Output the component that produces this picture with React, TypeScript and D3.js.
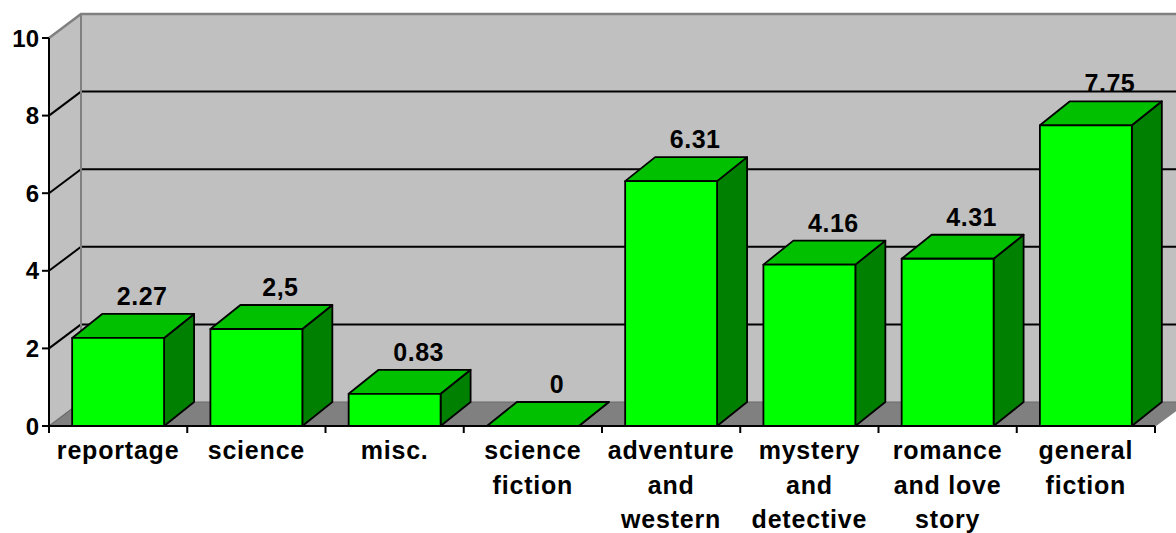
import React from "react";
import * as d3 from "d3";

// Category labels, one entry per line of the wrapped axis label
const categoryLines: string[][] = [
  ["reportage"],
  ["science"],
  ["misc."],
  ["science", "fiction"],
  ["adventure", "and", "western"],
  ["mystery", "and", "detective"],
  ["romance", "and love", "story"],
  ["general", "fiction"],
];
const values: number[] = [2.27, 2.5, 0.83, 0, 6.31, 4.16, 4.31, 7.75];
const valueLabels: string[] = ["2.27", "2,5", "0.83", "0", "6.31", "4.16", "4.31", "7.75"];
const yTicks: number[] = [0, 2, 4, 6, 8, 10];

const W = 1176;
const H = 533;
const FONT = "'Liberation Sans', Arial, sans-serif";

export default function App() {
  const left = 49;
  const right = 1155;
  const base = 426;
  const top = 38;
  // oblique depth of the walls and the bars
  const wallDx = 32;
  const wallDy = 24;
  const barDx = 30;
  const barDy = 24;

  const keys = categoryLines.map((_, i) => String(i));
  const x = d3.scaleBand<string>().domain(keys).range([left, right]).padding(0);
  const y = d3.scaleLinear().domain([0, 10]).range([base, top]);
  const step = x.step();
  const barW = step * 0.665;
  const barOff = (step - barW) / 2;

  const pts = (p: [number, number][]) => p.map((q) => q.join(",")).join(" ");

  const backRight = W + 60;

  return (
    <svg
      width={W}
      height={H}
      style={{ position: "absolute", left: 0, top: 0, background: "#fff" }}
      fontFamily={FONT}
    >
      {/* back wall */}
      <rect
        x={left + wallDx}
        y={y(10) - wallDy}
        width={backRight - left - wallDx}
        height={base - y(10)}
        fill="#c0c0c0"
      />
      {/* side wall */}
      <polygon
        points={pts([
          [left, y(10)],
          [left + wallDx, y(10) - wallDy],
          [left + wallDx, base - wallDy],
          [left, base],
        ])}
        fill="#c0c0c0"
      />
      {/* floor */}
      <polygon
        points={pts([
          [left, base],
          [left + wallDx, base - wallDy],
          [backRight, base - wallDy],
          [right + wallDx + 60, base],
        ])}
        fill="#808080"
      />
      <polygon
        points={pts([
          [right, base],
          [right + wallDx + 60, base - wallDy - 45],
          [backRight + 100, base + 100],
          [right, base + 100],
        ])}
        fill="#fff"
      />
      <line
        x1={right}
        y1={base}
        x2={right + wallDx}
        y2={base - wallDy}
        stroke="#808080"
        strokeWidth={1.5}
      />
      {/* floor back edge */}
      <line
        x1={left}
        y1={base}
        x2={left + wallDx}
        y2={base - wallDy}
        stroke="#6a6a6a"
        strokeWidth={1.2}
      />
      <line
        x1={left + wallDx}
        y1={base - wallDy}
        x2={backRight}
        y2={base - wallDy}
        stroke="#6a6a6a"
        strokeWidth={1.2}
      />

      {/* gridlines */}
      {yTicks
        .filter((t) => t > 0 && t < 10)
        .map((t) => (
          <g key={"g" + t}>
            <line
              x1={left}
              y1={y(t)}
              x2={left + wallDx}
              y2={y(t) - wallDy}
              stroke="#000"
              strokeWidth={2}
            />
            <line
              x1={left + wallDx}
              y1={y(t) - wallDy}
              x2={backRight}
              y2={y(t) - wallDy}
              stroke="#000"
              strokeWidth={2}
            />
          </g>
        ))}
      {/* wall borders */}
      <polyline
        points={pts([
          [left, y(10)],
          [left + wallDx, y(10) - wallDy],
          [backRight, y(10) - wallDy],
        ])}
        fill="none"
        stroke="#808080"
        strokeWidth={2.5}
      />
      <line
        x1={left + wallDx}
        y1={y(10) - wallDy}
        x2={left + wallDx}
        y2={base - wallDy}
        stroke="#808080"
        strokeWidth={2}
      />

      {/* bars */}
      {values.map((v, i) => {
        const x0 = (x(String(i)) as number) + barOff;
        const x1 = x0 + barW;
        const yt = y(v);
        return (
          <g key={"b" + i} stroke="#000" strokeWidth={1.8} strokeLinejoin="round">
            <polygon
              points={pts([
                [x1, yt],
                [x1 + barDx, yt - barDy],
                [x1 + barDx, base - barDy],
                [x1, base],
              ])}
              fill="#008000"
            />
            <polygon
              points={pts([
                [x0, yt],
                [x0 + barDx, yt - barDy],
                [x1 + barDx, yt - barDy],
                [x1, yt],
              ])}
              fill="#00c000"
            />
            {v > 0 && <rect x={x0} y={yt} width={barW} height={base - yt} fill="#00ff00" />}
          </g>
        );
      })}

      {/* value labels */}
      {values.map((v, i) => {
        const cx = (x(String(i)) as number) + step / 2 + 24;
        const by = y(v) - barDy - 9;
        return (
          <text
            key={"v" + i}
            x={cx}
            y={by}
            textAnchor="middle"
            fontSize={25}
            fontWeight="bold"
            letterSpacing={0.5}
            fill="#000"
          >
            {valueLabels[i]}
          </text>
        );
      })}

      {/* axes */}
      <line x1={left} y1={y(10)} x2={left} y2={base} stroke="#000" strokeWidth={2} />
      <line x1={left} y1={base} x2={right} y2={base} stroke="#000" strokeWidth={2} />
      {yTicks.map((t) => (
        <g key={"y" + t}>
          <line x1={left - 7} y1={y(t)} x2={left} y2={y(t)} stroke="#000" strokeWidth={2} />
          <text
            x={39}
            y={y(t) + 8.5}
            textAnchor="end"
            fontSize={24}
            fontWeight="bold"
            fill="#000"
          >
            {t}
          </text>
        </g>
      ))}
      {d3.range(keys.length + 1).map((k) => (
        <line
          key={"xt" + k}
          x1={left + k * step}
          y1={base}
          x2={left + k * step}
          y2={base + 7}
          stroke="#000"
          strokeWidth={2}
        />
      ))}
      {categoryLines.map((lines, i) => (
        <text
          key={"c" + i}
          textAnchor="middle"
          fontSize={25}
          fontWeight="bold"
          letterSpacing={0.8}
          fill="#000"
        >
          {lines.map((ln, j) => (
            <tspan key={j} x={(x(String(i)) as number) + step / 2} y={459 + j * 34.5}>
              {ln}
            </tspan>
          ))}
        </text>
      ))}
    </svg>
  );
}
